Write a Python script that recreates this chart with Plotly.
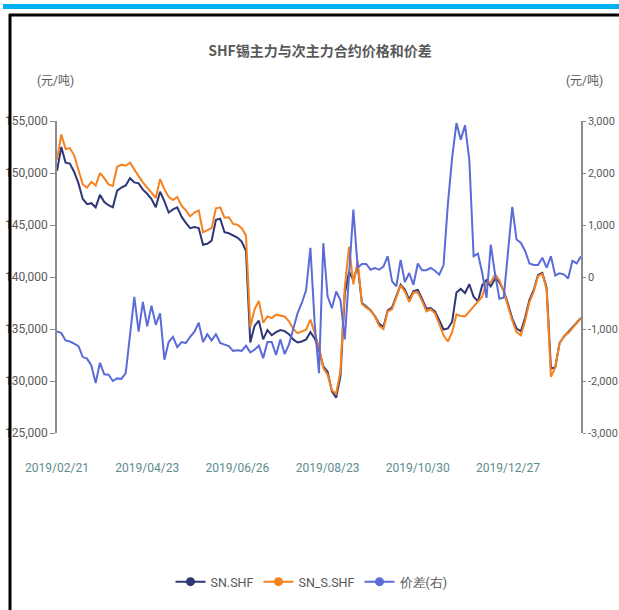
import pandas as pd
import plotly.graph_objects as go

# ---------------- data ----------------
HOLIDAYS = ["2019-04-05", "2019-05-01", "2019-05-02", "2019-05-03", "2019-06-07",
            "2019-09-13", "2019-10-01", "2019-10-02", "2019-10-03", "2019-10-04",
            "2019-10-07", "2020-01-01", "2020-01-24", "2020-01-27", "2020-01-28",
            "2020-01-29", "2020-01-30", "2020-01-31"]
trading_days = pd.bdate_range("2019-02-21", "2020-02-24", freq="C", holidays=HOLIDAYS)
dates = [d.strftime("%Y/%m/%d") for d in trading_days][::2]

tick_labels = ["2019/02/21", "2019/04/23", "2019/06/26", "2019/08/23", "2019/10/30", "2019/12/27"]
left_ticks = [125000, 130000, 135000, 140000, 145000, 150000, 155000]
right_ticks = [-3000, -2000, -1000, 0, 1000, 2000, 3000]

sn_shf = [150200, 152500, 151000, 150900, 150100, 149000, 147500, 147000, 147100, 146700,
          147900, 147200, 146900, 146700, 148300, 148600, 148800, 149500, 149100, 149000,
          148400, 148000, 147500, 146700, 148200, 147300, 146200, 146500, 146700, 145800,
          145200, 144700, 144800, 144700, 143100, 143200, 143500, 145500, 145600, 144300,
          144200, 144000, 143800, 143400, 142500, 133700, 135300, 135800, 134000, 134900,
          134400, 134700, 134900, 134800, 134500, 134000, 133700, 133800, 134000, 134700,
          134100, 133000, 131400, 130900, 129000, 128400, 130500, 138400, 140500, 139700,
          141100, 137500, 137100, 136800, 136250, 135500, 135200, 136800, 137050, 138140,
          139260, 138800, 137820, 138650, 138750, 137900, 136950, 137020, 136700, 135850,
          134950, 135050, 135700, 138500, 138850, 138460, 139300, 138100, 137650, 139200,
          139700, 139100, 139850, 139500, 138700, 137400, 136000, 135050, 134780, 136100,
          137800, 138750, 140200, 140400, 138950, 131200, 131300, 133650, 134250, 134700,
          135150, 135700, 136060]

sn_s_shf = [151280, 153700, 152300, 152400, 151700, 150400, 148900, 148600, 149150, 148800,
            150000, 149500, 148900, 148750, 150600, 150800, 150700, 151000, 150300, 149700,
            149100, 148600, 148200, 147600, 149400, 148450, 147700, 147400, 147700, 146850,
            146400, 145830, 146200, 146400, 144300, 144500, 144700, 146600, 146700, 145700,
            145750, 145100, 145030, 144700, 144000, 135200, 136900, 137700, 135600, 136200,
            136050, 136380, 136300, 136200, 135740, 135000, 134600, 134800, 134940, 135900,
            134700, 133300, 131250, 130600, 129100, 128800, 131000, 139000, 142900, 139300,
            141500, 137400, 137050, 136800, 136220, 135300, 135000, 136700, 136900, 138000,
            139200, 138600, 137600, 138500, 138500, 137700, 136700, 136900, 136500, 135500,
            134400, 133800, 134700, 136400, 136250, 136200, 136700, 137200, 137600, 138100,
            139450, 139500, 140250, 139700, 138600, 137150, 135800, 134700, 134400, 135800,
            137600, 138600, 140100, 140300, 138800, 130400, 131300, 133600, 134300, 134600,
            135100, 135500, 136060]

spread = [-1045, -1080, -1220, -1240, -1280, -1330, -1540, -1570, -1700, -2040,
          -1650, -1870, -1880, -2000, -1950, -1960, -1850, -1080, -380, -1050,
          -480, -950, -550, -920, -700, -1590, -1250, -1150, -1350, -1250,
          -1270, -1150, -1050, -880, -1250, -1100, -1220, -1100, -1270, -1300,
          -1330, -1420, -1410, -1420, -1320, -1450, -1400, -1320, -1560, -1250,
          -1250, -1500, -1200, -1480, -1300, -1000, -700, -500, -250, 560,
          -900, -1850, 650, -370, -600, -280, -450, -1200, 80, 1295,
          180, 250, 250, 140, 170, 140, 200, 400, -80, -180,
          330, -100, 77, -150, 260, 130, 130, 173, 120, 45,
          230, 1400, 2300, 2960, 2640, 2920, 2250, 400, 450, 80,
          -400, 620, 50, -420, -400, 480, 1350, 720, 655, 500,
          260, 230, 230, 370, 180, 400, 30, 70, 50, -30,
          310, 260, 400]

series_names = ["SN.SHF", "SN_S.SHF", "价差(右)"]
series_colors = ["#2d3776", "#f5821f", "#5b6bd8"]

# ---------------- layout geometry (pixels) ----------------
W, H = 619, 610
L, R, T, B = 57, 38, 121, 177
PW, PH = W - L - R, H - T - B


def px_x(px):
    return (px - L) / PW


def px_y(py):
    return (H - B - py) / PH


n = min(len(dates), len(sn_shf), len(sn_s_shf), len(spread))
dates = dates[:n]

fig = go.Figure()
fig.add_trace(go.Scatter(x=dates, y=sn_shf[:n], mode="lines", name=series_names[0],
                         line=dict(color=series_colors[0], width=2), showlegend=False,
                         xaxis="x", yaxis="y"))
fig.add_trace(go.Scatter(x=dates, y=sn_s_shf[:n], mode="lines", name=series_names[1],
                         line=dict(color=series_colors[1], width=2), showlegend=False,
                         xaxis="x", yaxis="y"))
fig.add_trace(go.Scatter(x=dates, y=spread[:n], mode="lines", name=series_names[2],
                         line=dict(color=series_colors[2], width=2), showlegend=False,
                         xaxis="x", yaxis="y2"))
# legend entries (line + circle icon)
for name, col, ax in zip(series_names, series_colors, ["y", "y", "y2"]):
    fig.add_trace(go.Scatter(x=[None], y=[None], mode="lines+markers", name=name,
                             line=dict(color=col, width=2),
                             marker=dict(color=col, size=9, symbol="circle"),
                             xaxis="x", yaxis=ax, showlegend=True))

narrow = "'Liberation Sans Narrow', 'Arial Narrow', Roboto, sans-serif"
axis_font = dict(family=narrow, size=12, color="#595959")
axis_line = "#8c8c8c"
teal = "#4f9a96"

tick_idx = [dates.index(t) for t in tick_labels if t in dates]

fig.update_layout(
    width=W, height=H,
    margin=dict(l=L, r=R, t=T, b=B, pad=0, autoexpand=False),
    paper_bgcolor="white", plot_bgcolor="white",
    font=dict(family="Roboto, 'Noto Sans CJK SC', sans-serif", color="#595959"),
    title=dict(text="<b>SHF锡主力与次主力合约价格和价差</b>",
               font=dict(family="'Noto Sans CJK SC', sans-serif", size=14, color="#595959"),
               x=320 / W, xanchor="center", y=1 - 51 / H, yanchor="middle"),
    xaxis=dict(type="category", range=[0, n - 1], showgrid=False, zeroline=False,
               showline=False, ticks="outside", ticklen=24, tickcolor="rgba(0,0,0,0)",
               tickmode="array", tickvals=tick_labels, ticktext=tick_labels,
               tickfont=dict(family=narrow, size=12, color="#5e8b8d")),
    xaxis2=dict(overlaying="x", anchor="free", position=0.5, range=[0, n - 1],
                showgrid=False, zeroline=False, showline=True, linecolor=teal, linewidth=2,
                ticks="outside", ticklen=6, tickcolor=teal, tickwidth=1,
                tickmode="array", tickvals=tick_idx, showticklabels=False),
    yaxis=dict(range=[125000, 155000], tickmode="array", tickvals=left_ticks,
               ticktext=[f"{v:,}" for v in left_ticks],
               showgrid=False, zeroline=False, showline=True,
               linecolor=axis_line, linewidth=1.5, ticks="outside", ticklen=5,
               tickcolor=axis_line, tickfont=axis_font),
    yaxis2=dict(range=[-3000, 3000], tickmode="array", tickvals=right_ticks,
                ticktext=[f"{v:,}" for v in right_ticks],
                overlaying="y", side="right", showgrid=False,
                zeroline=False, showline=True, linecolor=axis_line, linewidth=1.5,
                ticks="outside", ticklen=3, tickcolor=axis_line,
                tickfont=dict(family=narrow, size=11, color="#595959")),
    legend=dict(orientation="h", x=px_x(312), xanchor="center", y=px_y(582),
                yanchor="middle", font=dict(family=narrow, size=12.5, color="#595959"),
                bgcolor="rgba(0,0,0,0)", itemwidth=30, tracegroupgap=0),
    showlegend=True,
)

# units
fig.add_annotation(text="(元/吨)", xref="paper", yref="paper", x=px_x(55), y=px_y(81),
                   xanchor="center", yanchor="middle",
                   showarrow=False, font=dict(size=12, color="#595959"))
fig.add_annotation(text="(元/吨)", xref="paper", yref="paper", x=px_x(584), y=px_y(81),
                   xanchor="center", yanchor="middle",
                   showarrow=False, font=dict(size=12, color="#595959"))

# frame: cyan strip, black border lines
fig.add_shape(type="rect", xref="paper", yref="paper", x0=px_x(3), x1=px_x(W + 2),
              y0=px_y(9), y1=px_y(4), fillcolor="#00b0f0", line=dict(width=0), layer="above")
fig.add_shape(type="line", xref="paper", yref="paper", x0=px_x(9), x1=px_x(W + 2),
              y0=px_y(15), y1=px_y(15), line=dict(color="black", width=3))
fig.add_shape(type="line", xref="paper", yref="paper", x0=px_x(10), x1=px_x(10),
              y0=px_y(14), y1=px_y(H + 2), line=dict(color="black", width=3))

fig.write_html("out.html", config={"displayModeBar": False},
               post_script="document.body.style.margin='0';document.body.style.overflow='hidden';")
